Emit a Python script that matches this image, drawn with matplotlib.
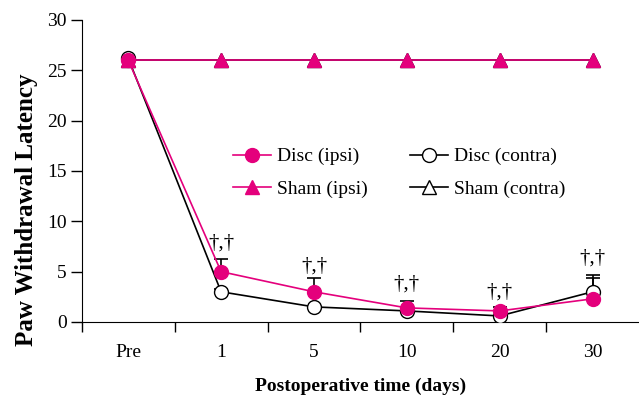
import numpy as np
import matplotlib
matplotlib.use("Agg")
import matplotlib.pyplot as plt

# data
days = ["Pre", "1", "5", "10", "20", "30"]
disc_ipsi = [26.0, 5.0, 3.0, 1.4, 1.1, 2.3]
disc_ipsi_err = [0.0, 1.3, 1.4, 0.7, 0.4, 2.4]
disc_contra = [26.2, 3.0, 1.5, 1.1, 0.6, 3.0]
disc_contra_err = [0.0, 0.3, 0.0, 0.0, 0.0, 1.4]
sham_ipsi = [26.0, 26.0, 26.0, 26.0, 26.0, 26.0]
sham_contra = [26.0, 26.0, 26.0, 26.0, 26.0, 26.0]
sig_labels = ["", "\u2020,\u2020", "\u2020,\u2020", "\u2020,\u2020", "\u2020,\u2020", "\u2020,\u2020"]
sig_y = [0, 7.8, 5.6, 3.8, 3.0, 6.4]

magenta = "#e4007c"
plt.rcParams["font.family"] = ["Liberation Serif", "DejaVu Serif"]
plt.rcParams["font.size"] = 14

fig = plt.figure(figsize=(6.39, 3.99), dpi=100)
ax = fig.add_axes([0.128, 0.193, 0.872, 0.757])
x = np.arange(len(days))

zeros = np.zeros(len(days))
ax.errorbar(x, disc_contra, yerr=[zeros, disc_contra_err], color="black", lw=1.2,
            capsize=5, capthick=1.2, fmt="none", zorder=2)
ax.errorbar(x, disc_ipsi, yerr=[zeros, disc_ipsi_err], color="black", lw=1.2,
            capsize=5, capthick=1.2, fmt="none", zorder=2)

l_sc, = ax.plot(x, sham_contra, color="black", lw=1.2, marker="^", ms=10,
                mfc="white", mec="black", zorder=3, label="Sham (contra)")
l_dc, = ax.plot(x, disc_contra, color="black", lw=1.2, marker="o", ms=10,
                mfc="white", mec="black", zorder=3, label="Disc (contra)")
l_di, = ax.plot(x, disc_ipsi, color=magenta, lw=1.2, marker="o", ms=10,
                mfc=magenta, mec=magenta, zorder=4, label="Disc (ipsi)")
l_si, = ax.plot(x, sham_ipsi, color=magenta, lw=1.2, marker="^", ms=10,
                mfc=magenta, mec=magenta, zorder=5, label="Sham (ipsi)")

for xi, lab, yi in zip(x, sig_labels, sig_y):
    if lab:
        ax.text(xi, yi, lab, ha="center", va="center", fontsize=15)

ax.legend([l_di, l_si, l_dc, l_sc],
          ["Disc (ipsi)", "Sham (ipsi)", "Disc (contra)", "Sham (contra)"],
          ncol=2, frameon=False, loc="upper left", bbox_to_anchor=(0.24, 0.635),
          handlelength=1.95, labelspacing=0.75, columnspacing=2.2, handletextpad=0.3)

ax.set_xlim(-0.5, 5.5)
ax.set_ylim(0, 30)
ax.set_yticks([0, 5, 10, 15, 20, 25, 30])
ax.set_xticks(np.arange(-0.5, 5.5, 1.0))
ax.set_xticklabels([])
ax.set_xticks(x, minor=True)
ax.set_xticklabels(days, minor=True)
ax.tick_params(axis="x", which="major", direction="out", length=7, width=1)
ax.tick_params(axis="x", which="minor", length=0, pad=16)
ax.tick_params(axis="y", direction="out", length=8, width=1, pad=3)
ax.spines["top"].set_visible(False)
ax.spines["right"].set_visible(False)
ax.set_ylabel("Paw Withdrawal Latency", fontweight="bold", fontsize=18)
ax.yaxis.set_label_coords(-0.078, 0.37)
ax.set_xlabel("Postoperative time (days)", fontweight="bold", labelpad=12)

fig.savefig("out.png", dpi=100)
